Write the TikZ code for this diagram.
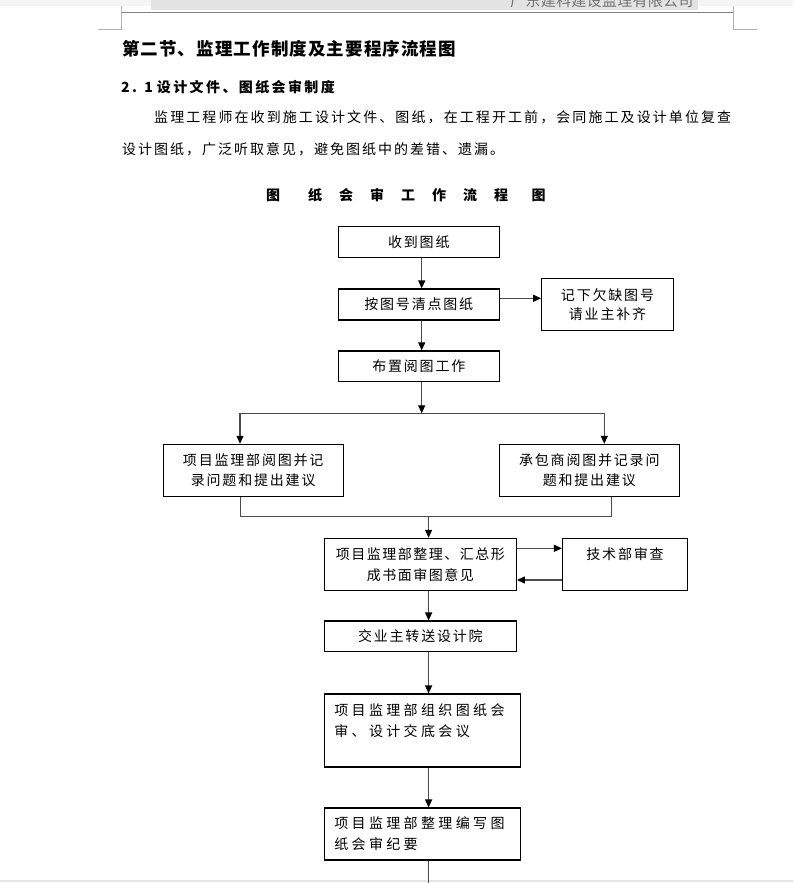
\documentclass[tikz,border=0pt]{standalone}
\usepackage{fontspec}
\setmainfont{Noto Sans CJK SC}
\newfontfamily\cj{Noto Sans CJK SC}
\usetikzlibrary{arrows.meta}
\newcommand\lsp[1]{\addfontfeature{LetterSpace=#1}}
\tikzset{
  every node/.style={inner sep=0pt},
  box/.style={draw=black, line width=1.1pt, inner sep=0pt, align=center,
    font=\cj\fontsize{14}{20}\selectfont\lsp{12.9}},
  wbox/.style={box, align=left, text width=176pt, inner xsep=10pt,
    font=\cj\fontsize{14}{21}\selectfont\lsp{24}},
  conn/.style={draw=black!70, line width=1.2pt},
  arr/.style={conn, -{Triangle[length=8pt,width=7pt,color=black]}},
  hdrline/.style={draw=black!30, line width=0.8pt},
}
\begin{document}
\begin{tikzpicture}[x=1pt,y=-1pt]
\useasboundingbox (0,0) rectangle (793,883);
% page header
\fill[black!4] (0,0) rectangle (793,6);
\fill[black!11] (151,0) rectangle (698,10);
\node[anchor=west, text=black!55, font=\cj\fontsize{15}{15}\selectfont\lsp{2}] (hdr) at (510,1) {广东建科建设监理有限公司};
\draw[draw=black!50, line width=1pt] (121,12.3) -- (733,12.3);
\draw[hdrline] (121,6) -- (121,29) -- (98,29);
\draw[hdrline] (733,6) -- (733,29) -- (757,29);
% texts
\node[anchor=west, font=\cj\bfseries\fontsize{17.5}{17.5}\selectfont\lsp{6.3}] (title) at (122,49) {第二节、监理工作制度及主要程序流程图};
\node[anchor=west, font=\cj\bfseries\fontsize{14}{14}\selectfont\lsp{17}] (sec) at (121,87.3) {2. 1\hspace{4pt}设计文件、图纸会审制度};
\node[anchor=west, font=\cj\fontsize{14}{14}\selectfont\lsp{14.9}] (p1) at (154,117.3) {监理工程师在收到施工设计文件、图纸，在工程开工前，会同施工及设计单位复查};
\node[anchor=west, font=\cj\fontsize{14}{14}\selectfont\lsp{14.3}] (p2) at (122,149) {设计图纸，广泛听取意见，避免图纸中的差错、遗漏。};
\node[anchor=west, font=\cj\bfseries\fontsize{14}{14}\selectfont] (ft) at (266,195) {图\hspace{28pt}纸\hspace{17pt}会\hspace{17pt}审\hspace{17pt}工\hspace{17pt}作\hspace{17pt}流\hspace{17pt}程\hspace{23.5pt}图};
% boxes
\node[box, minimum width=161pt, minimum height=30.6pt] (n1) at (418.8,242) {收到图纸};
\node[box, minimum width=161pt, minimum height=31pt] (n2) at (418.8,304.5) {按图号清点图纸};
\node[box, minimum width=131.6pt, minimum height=52pt, font=\cj\fontsize{14}{19}\selectfont\lsp{12.9}] (n3) at (607.5,304.3) {记下欠缺图号\\请业主补齐};
\node[box, minimum width=161pt, minimum height=30.7pt] (n4) at (418.8,366.3) {布置阅图工作};
\node[box, minimum width=180pt, minimum height=52pt] (n5) at (253.2,470.3) {项目监理部阅图并记\\录问题和提出建议};
\node[box, minimum width=180pt, minimum height=52pt] (n6) at (589.3,470.3) {承包商阅图并记录问\\题和提出建议};
\node[box, minimum width=192.1pt, minimum height=52pt, font=\cj\fontsize{14}{21}\selectfont\lsp{10.7}] (n7) at (420.35,564.3) {项目监理部整理、汇总形\\成书面审图意见};
\node[box, minimum width=125pt, minimum height=52pt, font=\cj\fontsize{14}{21}\selectfont\lsp{12.9}] (tech) at (625,564.3) {技术部审查\\\mbox{}};
\node[box, minimum width=192.1pt, minimum height=30.7pt] (n8) at (420.35,636.35) {交业主转送设计院};
\node[wbox, minimum height=73pt] (n9) at (422.3,730.5) {项目监理部组织图纸会\\审、设计交底会议\\\mbox{}};
\node[wbox, minimum height=52pt] (n10) at (422.3,834) {项目监理部整理编写图\\纸会审纪要};
% bottom band
\draw[draw=black!10, line width=1.5pt] (0,881) -- (793,881);
% connectors
\coordinate (sp) at (421.7,413.3);
\coordinate (spL) at (240,413.3);
\coordinate (spR) at (604.3,413.3);
\coordinate (mL) at (240.4,516.7);
\coordinate (mR) at (611.4,516.7);
\coordinate (mM) at (428.6,516.7);
\coordinate (bot) at (428.6,883);
\draw[arr] (n1.south -| sp) -- (n2.north -| sp);
\draw[arr] (n2.south -| sp) -- (n4.north -| sp);
\draw[arr] ([yshift=6.2pt]n2.east) -- ([yshift=6.2pt]n2.east -| n3.west);
\draw[arr] (n4.south -| sp) -- (sp);
\draw[conn] (spL) -- (spR);
\draw[arr] (spL) -- (spL |- n5.north);
\draw[arr] (spR) -- (spR |- n6.north);
\draw[conn] (mL |- n5.south) -- (mL) -- (mR) -- (mR |- n6.south);
\draw[arr] (mM) -- (mM |- n7.north);
\draw[arr] ([yshift=16pt]n7.east) -- ([yshift=16pt]n7.east -| tech.west);
\draw[arr] ([yshift=-15.7pt]tech.west) -- ([yshift=-15.7pt]tech.west -| n7.east);
\draw[arr] (n7.south -| mM) -- (n8.north -| mM);
\draw[arr] (n8.south -| mM) -- (n9.north -| mM);
\draw[arr] (n9.south -| mM) -- (n10.north -| mM);
\draw[conn] (n10.south -| bot) -- (bot);
\end{tikzpicture}
\end{document}
